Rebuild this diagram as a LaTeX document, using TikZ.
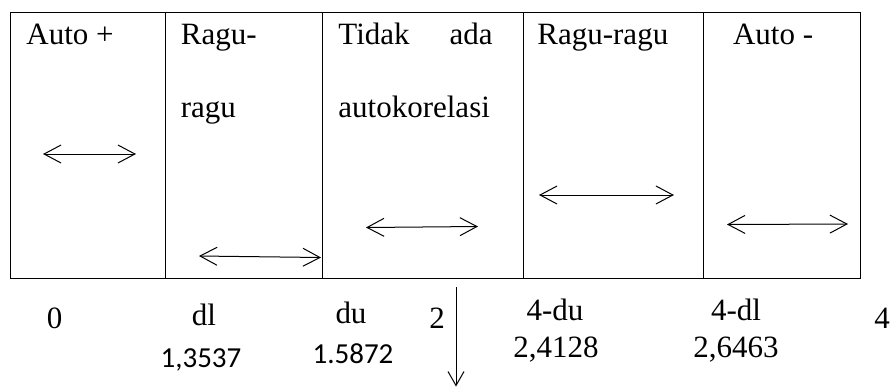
\documentclass[tikz,border=0pt]{standalone}
\usepackage{fontspec}
\setmainfont{Liberation Serif}
\newfontfamily\calibrifont{Carlito}
\usetikzlibrary{arrows.meta,calc}

\tikzset{
    celltext/.style={anchor=base west,inner sep=0pt,font=\fontsize{15.5}{18}\selectfont},
    axislabel/.style={anchor=base,inner sep=0pt,font=\fontsize{15.5}{18}\selectfont},
    valuelabel/.style={anchor=base,inner sep=0pt,font=\calibrifont\fontsize{14.5}{17}\selectfont},
    zonearrow/.style={line width=0.5pt,{Straight Barb[length=8.5pt,width=9pt]}-{Straight Barb[length=8.5pt,width=9pt]}},
}

\begin{document}
\begin{tikzpicture}[x=0.5pt,y=-0.5pt]
                    \useasboundingbox (0,0) rectangle (891,387);
                    \coordinate (TL) at (10.7,12.3);
                    \coordinate (BR) at (860.7,278.7);

                    \draw[line width=0.6pt] (TL) rectangle (BR);
                    \foreach \x in {165.7,322.7,523.3,703.3}
                        \draw[line width=0.6pt] (\x,12.3) -- (\x,278.7);

                    \node[celltext] (autoplus) at (26,44) {Auto +};
                    \node[celltext] (ragua) at (180.5,44) {Ragu-};
                    \node[celltext] (ragub) at (180.5,117) {ragu};
                    \node[celltext] (tidak) at (338,44) {Tidak};
                    \node[celltext,anchor=base east] (ada) at (493,44) {ada};
                    \node[celltext] (autokor) at (338,117) {autokorelasi};
                    \node[celltext] (raguragu) at (537,44) {Ragu-ragu};
                    \node[celltext] (autominus) at (732.7,44) {Auto -};

                    \coordinate (A1) at (43,154);
                    \coordinate (B1) at (136,154);
                    \coordinate (A2) at (199,256);
                    \coordinate (B2) at (321,257.5);
                    \coordinate (A3) at (366,227.5);
                    \coordinate (B3) at (478,226.5);
                    \coordinate (A4) at (539,195);
                    \coordinate (B4) at (674,195);
                    \coordinate (A5) at (727,224.5);
                    \coordinate (B5) at (848,224);

                    \draw[zonearrow] (A1) -- (B1);
                    \draw[zonearrow] (A2) -- (B2);
                    \draw[zonearrow] (A3) -- (B3);
                    \draw[zonearrow] (A4) -- (B4);
                    \draw[zonearrow] (A5) -- (B5);

                    \node[axislabel] (zero) at (54.5,328) {0};
                    \node[axislabel] (dl) at (204,325) {dl};
                    \node[valuelabel] (dlval) at (201,367) {1,3537};
                    \node[axislabel] (du) at (351,323) {du};
                    \node[valuelabel] (duval) at (353,363) {1.5872};
                    \node[axislabel] (two) at (437,328) {2};
                    \node[axislabel] (fourdu) at (555,320) {4-du};
                    \node[axislabel] (fourduval) at (556,357) {2,4128};
                    \node[axislabel] (fourdl) at (736,320) {4-dl};
                    \node[axislabel] (fourdlval) at (736,357) {2,6463};
                    \node[axislabel] (four) at (882,328) {4};

                    \coordinate (M) at (456,287);
                    \coordinate (N) at (456,386.5);
                    \draw[line width=0.5pt,-{Straight Barb[length=7pt,width=8pt]}] (M) -- (N);
                \end{tikzpicture}
\end{document}
